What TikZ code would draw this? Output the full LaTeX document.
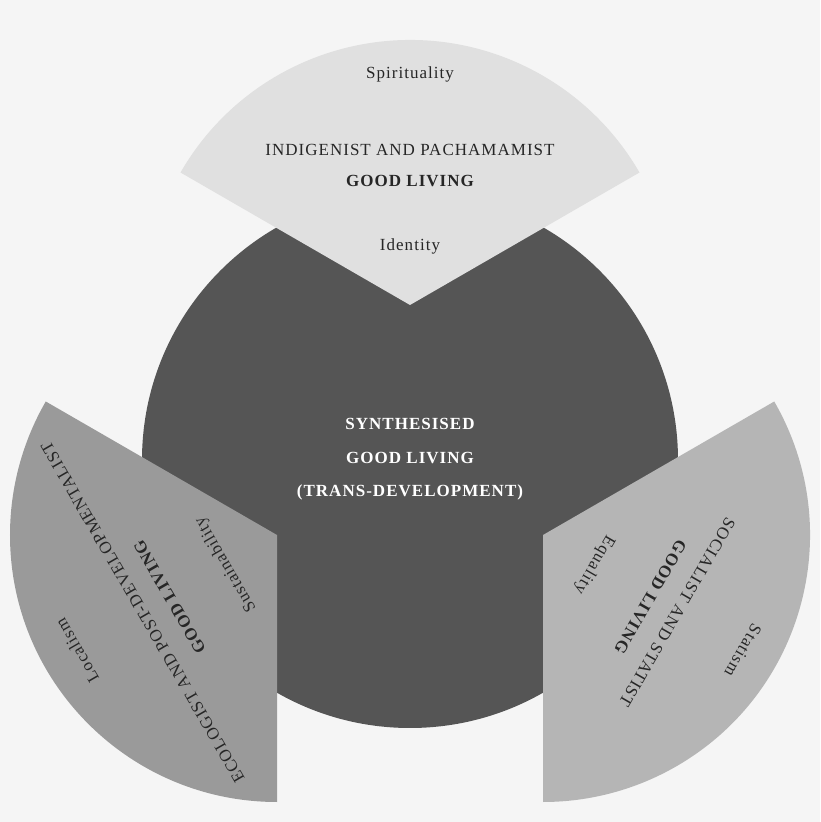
\documentclass[tikz,border=0pt]{standalone}
\usepackage{fontspec}
\setmainfont{Liberation Serif}[LetterSpace=6]
\definecolor{bggray}{HTML}{F5F5F5}
\definecolor{coregray}{HTML}{555555}
\definecolor{topgray}{HTML}{E0E0E0}
\definecolor{leftgray}{HTML}{9A9A9A}
\definecolor{rightgray}{HTML}{B5B5B5}
\tikzset{
  lbl/.style={font=\fontsize{17}{20}\selectfont,text=black!85,inner sep=1pt},
  bold/.style={lbl,font=\fontsize{17}{20}\selectfont\bfseries},
  core/.style={font=\fontsize{17}{20}\selectfont\bfseries,text=white,inner sep=1pt}
}
\begin{document}
\begin{tikzpicture}[x=1pt,y=1pt]
  \fill[bggray] (0,0) rectangle (820,822);
  \useasboundingbox (0,0) rectangle (820,822);
  % core circle
  \fill[coregray] (410,362) circle[radius=268];
  \node[core] (synth) at (410,398) {SYNTHESISED};
  \node[core] (goodc) at (410,364) {GOOD LIVING};
  \node[core] (trans) at (410,330) {(TRANS-DEVELOPMENT)};
  % indigenist sector
  \begin{scope}[shift={(410,517)}]
    \fill[topgray] (0,0) -- (150:265) arc[start angle=150,end angle=30,radius=265] -- cycle;
    \node[lbl] (spirit) at (0,231) {Spirituality};
    \node[lbl] (indig) at (0,155) {INDIGENIST AND PACHAMAMIST};
    \node[bold] (goodt) at (0,124) {GOOD LIVING};
    \node[lbl] (ident) at (0,59) {Identity};
  \end{scope}
  % ecologist sector
  \begin{scope}[shift={(277,287)},rotate=120,transform shape]
    \fill[leftgray] (0,0) -- (150:267) arc[start angle=150,end angle=30,radius=267] -- cycle;
    \node[lbl] (local) at (0,231) {Localism};
    \node[lbl] (ecol) at (0,155) {ECOLOGIST AND POST-DEVELOPMENTALIST};
    \node[bold] (goodl) at (0,124) {GOOD LIVING};
    \node[lbl] (sustain) at (0,59) {Sustainability};
  \end{scope}
  % socialist sector
  \begin{scope}[shift={(543,287)},rotate=-120,transform shape]
    \fill[rightgray] (0,0) -- (150:267) arc[start angle=150,end angle=30,radius=267] -- cycle;
    \node[lbl] (statism) at (0,231) {Statism};
    \node[lbl] (social) at (0,155) {SOCIALIST AND STATIST};
    \node[bold] (goodr) at (0,124) {GOOD LIVING};
    \node[lbl] (equal) at (0,59) {Equality};
  \end{scope}
\end{tikzpicture}
\end{document}
